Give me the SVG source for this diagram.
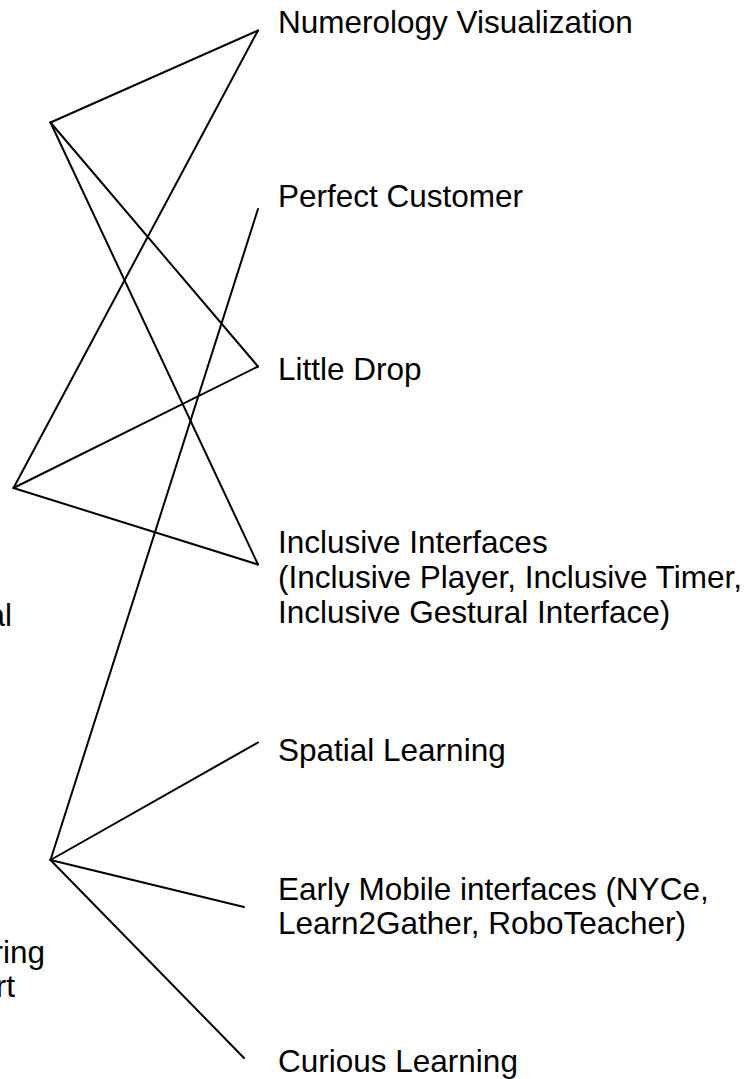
<svg xmlns="http://www.w3.org/2000/svg" width="754" height="1079" viewBox="0 0 754 1079">
<style>
.t{font-family:"Liberation Sans",Arial,sans-serif;font-size:31.5px;fill:#000}
.e{stroke:#000;stroke-width:2;fill:none;stroke-linecap:round}
</style>
<rect width="754" height="1079" fill="#fff"/>
<g id="connectors">
<line class="e" x1="50.5" y1="122.5" x2="258" y2="30.5"/>
<line class="e" x1="50.5" y1="122.5" x2="258" y2="366.5"/>
<line class="e" x1="50.5" y1="122.5" x2="258" y2="564.5"/>
<line class="e" x1="13.5" y1="488" x2="258" y2="30.5"/>
<line class="e" x1="13.5" y1="488" x2="258" y2="366.5"/>
<line class="e" x1="13.5" y1="488" x2="258" y2="564.5"/>
<line class="e" x1="50.5" y1="860" x2="258" y2="209"/>
<line class="e" x1="50.5" y1="860" x2="258" y2="742.5"/>
<line class="e" x1="50.5" y1="860" x2="244" y2="907"/>
<line class="e" x1="50.5" y1="860" x2="244" y2="1058"/>
</g>
<g id="node-numerology"><text class="t" x="278" y="33">Numerology Visualization</text></g>
<g id="node-perfect-customer"><text class="t" x="278" y="207">Perfect Customer</text></g>
<g id="node-little-drop"><text class="t" x="278" y="380">Little Drop</text></g>
<g id="node-inclusive"><text class="t" x="278" y="553">Inclusive Interfaces<tspan x="278" y="588">(Inclusive Player, Inclusive Timer,</tspan><tspan x="278" y="623">Inclusive Gestural Interface)</tspan></text></g>
<g id="node-spatial"><text class="t" x="278" y="761">Spatial Learning</text></g>
<g id="node-early-mobile"><text class="t" x="278" y="900">Early Mobile interfaces (NYCe,<tspan x="278" y="934">Learn2Gather, RoboTeacher)</tspan></text></g>
<g id="node-curious"><text class="t" x="278" y="1072">Curious Learning</text></g>
<g id="node-left-b"><text class="t" x="12" y="626" text-anchor="end">al</text></g>
<g id="node-left-c"><text class="t" x="45" y="963" text-anchor="end">ring</text><text class="t" x="15" y="997" text-anchor="end">rt</text></g>
</svg>
